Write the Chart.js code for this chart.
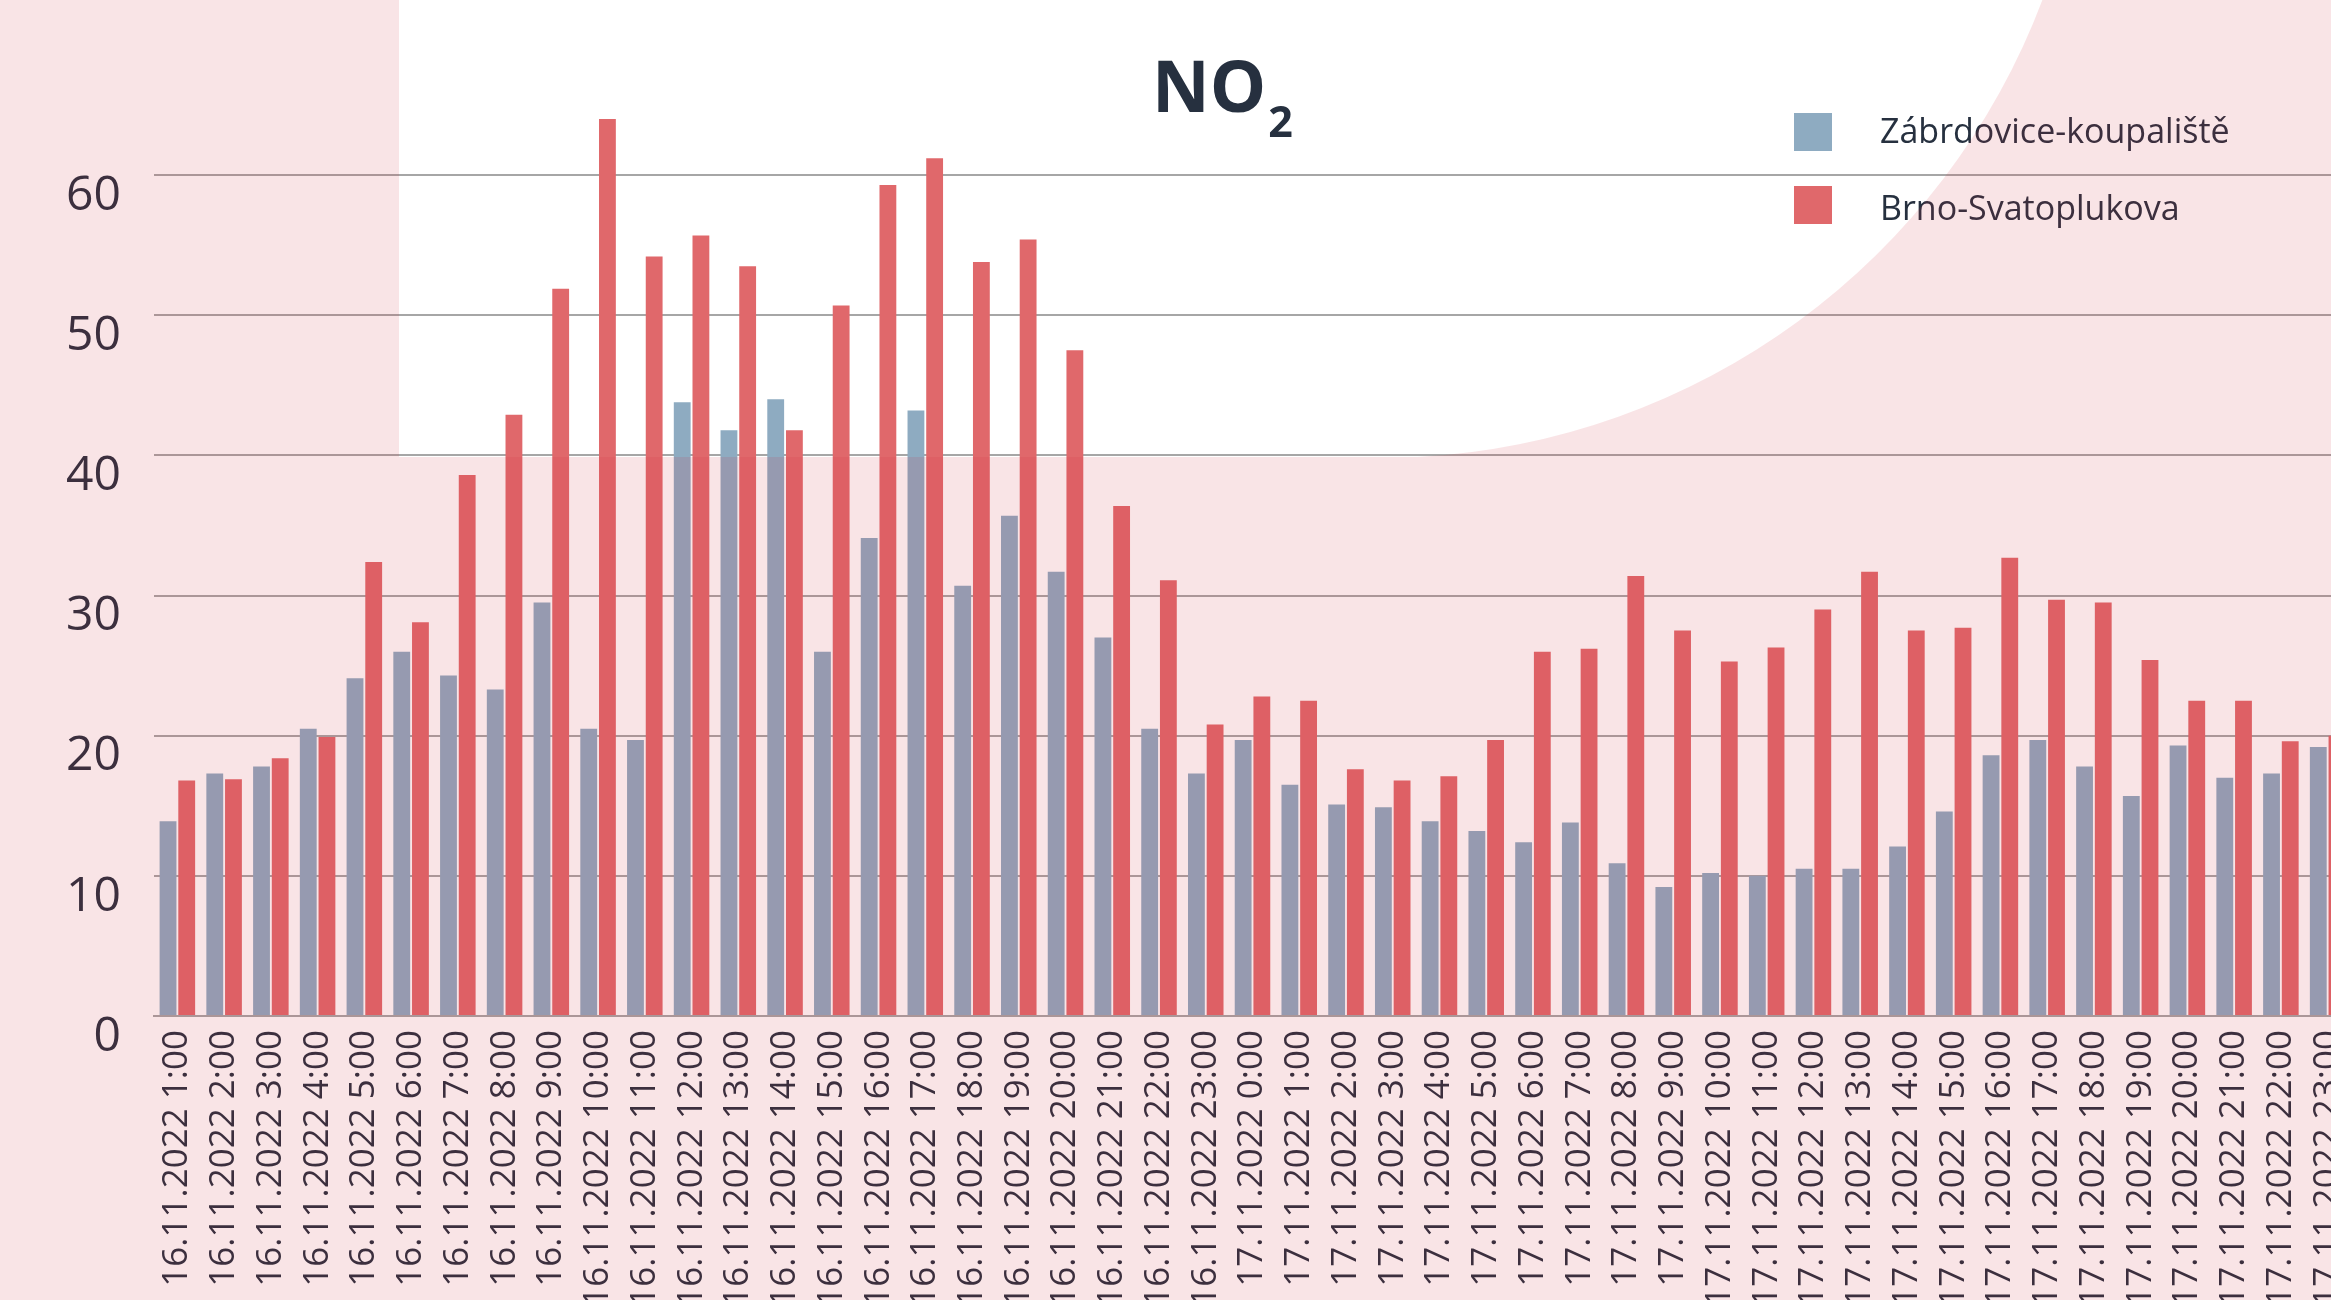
<!DOCTYPE html>
<html lang="cs">
<head>
    <meta charset="UTF-8">
    <title>NO2</title>
    <style>
        html, body { margin: 0; padding: 0; background: #fff; overflow: hidden; }
        canvas { display: block; }
    </style>
    <script src="https://cdn.jsdelivr.net/npm/chart.js"></script>
</head>
<body>
    <canvas id="no2Chart" width="2351" height="1330"></canvas>

    <script>
        // hourly NO2 values, 16.11.2022 1:00 - 17.11.2022 23:00
        const categories = [
            '16.11.2022 1:00', '16.11.2022 2:00', '16.11.2022 3:00', '16.11.2022 4:00',
            '16.11.2022 5:00', '16.11.2022 6:00', '16.11.2022 7:00', '16.11.2022 8:00',
            '16.11.2022 9:00', '16.11.2022 10:00', '16.11.2022 11:00', '16.11.2022 12:00',
            '16.11.2022 13:00', '16.11.2022 14:00', '16.11.2022 15:00', '16.11.2022 16:00',
            '16.11.2022 17:00', '16.11.2022 18:00', '16.11.2022 19:00', '16.11.2022 20:00',
            '16.11.2022 21:00', '16.11.2022 22:00', '16.11.2022 23:00',
            '17.11.2022 0:00', '17.11.2022 1:00', '17.11.2022 2:00', '17.11.2022 3:00',
            '17.11.2022 4:00', '17.11.2022 5:00', '17.11.2022 6:00', '17.11.2022 7:00',
            '17.11.2022 8:00', '17.11.2022 9:00', '17.11.2022 10:00', '17.11.2022 11:00',
            '17.11.2022 12:00', '17.11.2022 13:00', '17.11.2022 14:00', '17.11.2022 15:00',
            '17.11.2022 16:00', '17.11.2022 17:00', '17.11.2022 18:00', '17.11.2022 19:00',
            '17.11.2022 20:00', '17.11.2022 21:00', '17.11.2022 22:00', '17.11.2022 23:00'
        ];

        const zabrdovice = [
            13.9, 17.3, 17.8, 20.5, 24.1, 26.0, 24.3, 23.3, 29.5, 20.5,
            19.7, 43.8, 41.8, 44.0, 26.0, 34.1, 43.2, 30.7, 35.7, 31.7,
            27.0, 20.5, 17.3,
            19.7, 16.5, 15.1, 14.9, 13.9, 13.2, 12.4, 13.8, 10.9, 9.2,
            10.2, 10.0, 10.5, 10.5, 12.1, 14.6, 18.6, 19.7, 17.8, 15.7,
            19.3, 17.0, 17.3, 19.2
        ];

        const svatoplukova = [
            16.8, 16.9, 18.4, 19.9, 32.4, 28.1, 38.6, 42.9, 51.9, 64.0,
            54.2, 55.7, 53.5, 41.8, 50.7, 59.3, 61.2, 53.8, 55.4, 47.5,
            36.4, 31.1, 20.8,
            22.8, 22.5, 17.6, 16.8, 17.1, 19.7, 26.0, 26.2, 31.4, 27.5,
            25.3, 26.3, 29.0, 31.7, 27.5, 27.7, 32.7, 29.7, 29.5, 25.4,
            22.5, 22.5, 19.6, 20.0
        ];

        const seriesNames = ['Zábrdovice-koupaliště', 'Brno-Svatoplukova'];
        const yTicks = [0, 10, 20, 30, 40, 50, 60];
        const titleMain = 'NO';
        const titleSub = '2';

        const textColor = '#26303f';
        const gridColor = '#a6a6a6';
        const fontFamily = '"Open Sans", "Noto Sans", sans-serif';

        // title, legend and the pink backdrop shape, drawn after the chart
        const decorPlugin = {
            id: 'decor',
            beforeDraw(chart) {
                const ctx = chart.ctx;
                ctx.save();
                ctx.fillStyle = '#ffffff';
                ctx.fillRect(0, 0, chart.width, chart.height);
                ctx.restore();
            },
            afterDraw(chart) {
                const ctx = chart.ctx;
                ctx.save();

                // title NO2 with subscript
                ctx.fillStyle = textColor;
                ctx.textBaseline = 'alphabetic';
                ctx.textAlign = 'left';
                ctx.font = 'bold 71px ' + fontFamily;
                ctx.fillText(titleMain, 1152, 112);
                const w = ctx.measureText(titleMain).width;
                ctx.font = 'bold 43px ' + fontFamily;
                ctx.fillText(titleSub, 1152 + w + 2, 137);

                // legend, one item per line
                ctx.font = '34px ' + fontFamily;
                const textY = [143, 220];
                chart.data.datasets.forEach((ds, i) => {
                    const top = 113 + i * 73;
                    ctx.fillStyle = ds.backgroundColor;
                    ctx.fillRect(1794, top, 38, 38);
                    ctx.fillStyle = textColor;
                    ctx.fillText(ds.label, 1880, textY[i]);
                });

                // translucent pink over everything except the white shape
                const cx = 1380, cy = -250, r = 708, bottom = 457, left = 399;
                const a0 = Math.asin((0 - cy) / r);
                const a1 = Math.asin(Math.min(1, (bottom - cy) / r));
                ctx.beginPath();
                ctx.rect(0, 0, chart.width, chart.height);
                ctx.moveTo(left, 0);
                ctx.lineTo(cx + Math.cos(a0) * r, 0);
                ctx.arc(cx, cy, r, a0, a1, false);
                ctx.lineTo(left, bottom);
                ctx.closePath();
                ctx.fillStyle = 'rgba(210, 48, 58, 0.13)';
                ctx.fill('evenodd');

                ctx.restore();
            }
        };

        const ctx = document.getElementById('no2Chart').getContext('2d');
        const myChart = new Chart(ctx, {
            type: 'bar',
            data: {
                labels: categories,
                datasets: [{
                    label: seriesNames[0],
                    data: zabrdovice,
                    backgroundColor: '#8eabc1'
                }, {
                    label: seriesNames[1],
                    data: svatoplukova,
                    backgroundColor: '#e0686b'
                }]
            },
            options: {
                responsive: false,
                animation: false,
                devicePixelRatio: 1,
                layout: { padding: { top: 35, left: 0, right: 0, bottom: 0 } },
                plugins: {
                    legend: { display: false },
                    title: { display: false },
                    tooltip: { enabled: false }
                },
                scales: {
                    x: {
                        grid: { display: false, drawTicks: false },
                        border: { display: true, color: gridColor, width: 2 },
                        ticks: {
                            color: textColor,
                            font: { family: fontFamily, size: 35 },
                            minRotation: 90,
                            maxRotation: 90,
                            autoSkip: false,
                            padding: 14
                        },
                        afterFit: (scale) => {
                            scale.height = 314;
                            scale.paddingLeft = 0;
                            scale.paddingRight = 0;
                        }
                    },
                    y: {
                        min: 0,
                        max: 70,
                        afterBuildTicks: (scale) => {
                            scale.ticks = yTicks.map(v => ({ value: v }));
                        },
                        grid: { color: gridColor, lineWidth: 2, drawTicks: false },
                        border: { display: false },
                        ticks: {
                            color: textColor,
                            font: { family: fontFamily, size: 48 },
                            padding: 33,
                            labelOffset: 21
                        },
                        afterFit: (scale) => {
                            scale.width = 154;
                            scale.paddingTop = 0;
                            scale.paddingBottom = 0;
                        }
                    }
                }
            },
            plugins: [decorPlugin]
        });
    </script>
</body>
</html>
